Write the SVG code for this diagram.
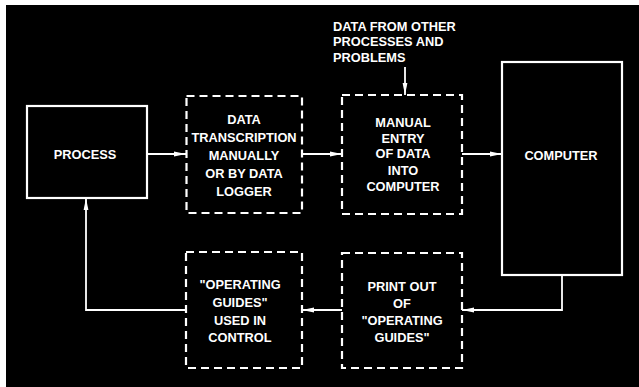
<svg xmlns="http://www.w3.org/2000/svg" width="639" height="387" viewBox="0 0 639 387">
<style>
  .bg { fill: #000; }
  .solid { fill: none; stroke: #fff; stroke-width: 2.2; }
  .dash { fill: none; stroke: #fff; stroke-width: 2.2; stroke-dasharray: 8 5; }
  .wire { fill: none; stroke: #fff; stroke-width: 1.8; }
  text { font-family: "Liberation Sans", Arial, sans-serif; font-weight: bold; font-size: 12.8px; fill: #fff; text-anchor: middle; }
  .left { text-anchor: start; }
</style>
<defs>
  <marker id="ah" viewBox="0 0 12 6" refX="12" refY="3" markerWidth="12" markerHeight="6" markerUnits="userSpaceOnUse" orient="auto">
    <path d="M0,0.6 L12,3 L0,5.4 Z" fill="#fff"/>
  </marker>
</defs>
<rect x="0" y="0" width="639" height="387" fill="#fff"/>
<rect class="bg" x="6" y="5" width="633" height="382"/>

<g id="connectors">
  <line class="wire" x1="147" y1="154" x2="186" y2="154" marker-end="url(#ah)"/>
  <line class="wire" x1="302" y1="154" x2="342" y2="154" marker-end="url(#ah)"/>
  <line class="wire" x1="462" y1="154" x2="502" y2="154" marker-end="url(#ah)"/>
  <line class="wire" x1="405" y1="67" x2="405" y2="95" marker-end="url(#ah)"/>
  <polyline class="wire" points="562,275 562,310 462,310" marker-end="url(#ah)"/>
  <line class="wire" x1="342" y1="310" x2="302" y2="310" marker-end="url(#ah)"/>
  <polyline class="wire" points="186,310 86,310 86,198" marker-end="url(#ah)"/>
</g>

<g id="process">
  <rect class="solid" x="27" y="106" width="120" height="92"/>
  <text x="85" y="159">PROCESS</text>
</g>

<g id="transcription">
  <rect class="dash" x="186.5" y="96" width="115.5" height="117"/>
  <text x="244" y="124">DATA</text>
  <text x="244" y="142">TRANSCRIPTION</text>
  <text x="244" y="160">MANUALLY</text>
  <text x="244" y="178">OR BY DATA</text>
  <text x="244" y="196">LOGGER</text>
</g>

<g id="manual-entry">
  <rect class="dash" x="342" y="95" width="120" height="119"/>
  <text x="403" y="127">MANUAL</text>
  <text x="403" y="143">ENTRY</text>
  <text x="403" y="158">OF DATA</text>
  <text x="403" y="175">INTO</text>
  <text x="403" y="191">COMPUTER</text>
</g>

<g id="other-data">
  <text class="left" x="333" y="31">DATA FROM OTHER</text>
  <text class="left" x="333" y="46">PROCESSES AND</text>
  <text class="left" x="333" y="62">PROBLEMS</text>
</g>

<g id="computer">
  <rect class="solid" x="502" y="62" width="120" height="213"/>
  <text x="561" y="160">COMPUTER</text>
</g>

<g id="print-out">
  <rect class="dash" x="342" y="253" width="120" height="115"/>
  <text x="402" y="291">PRINT OUT</text>
  <text x="402" y="308">OF</text>
  <text x="402" y="325">"OPERATING</text>
  <text x="402" y="342">GUIDES"</text>
</g>

<g id="operating-guides">
  <rect class="dash" x="186" y="252" width="116" height="116"/>
  <text x="240" y="289">"OPERATING</text>
  <text x="240" y="307">GUIDES"</text>
  <text x="240" y="325">USED IN</text>
  <text x="240" y="342">CONTROL</text>
</g>
</svg>
